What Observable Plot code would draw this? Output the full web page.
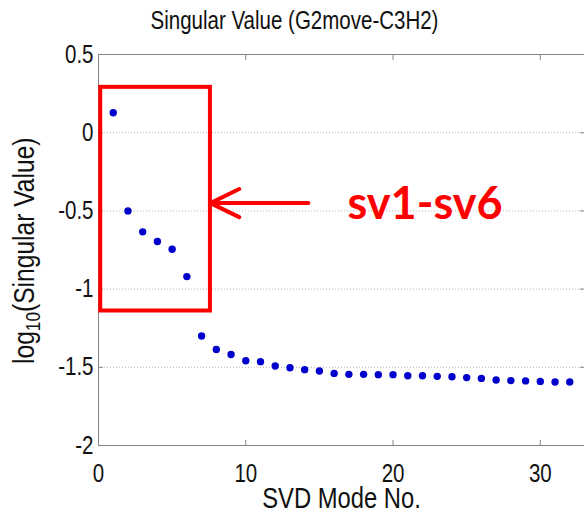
<!DOCTYPE html>
<html>
<head>
<meta charset="utf-8">
<script src="https://cdn.jsdelivr.net/npm/d3@7"></script>
<script src="https://cdn.jsdelivr.net/npm/@observablehq/plot@0.6"></script>
<style>
  body { margin: 0; background: #fff; }
  svg { display: block; }
</style>
</head>
<body>
<div id="chart"></div>
<script>
// SVD mode numbers and the log10 of each singular value
const modeNo = [1, 2, 3, 4, 5, 6, 7, 8, 9, 10, 11, 12, 13, 14, 15, 16,
                17, 18, 19, 20, 21, 22, 23, 24, 25, 26, 27, 28, 29, 30, 31, 32];
const log10SV = [0.128, -0.500, -0.634, -0.696, -0.745, -0.920, -1.300, -1.386,
                 -1.418, -1.458, -1.464, -1.492, -1.503, -1.515, -1.524, -1.539,
                 -1.545, -1.545, -1.547, -1.547, -1.554, -1.554, -1.558, -1.560,
                 -1.566, -1.571, -1.581, -1.585, -1.587, -1.590, -1.594, -1.594];

const xTicks = [0, 10, 20, 30];
const yTicks = [0.5, 0, -0.5, -1, -1.5, -2];
const gridLevels = [0, -0.5, -1, -1.5];

const titleText = "Singular Value (G2move-C3H2)";
const xLabel = "SVD Mode No.";
const yLabel = "log10(Singular Value)";
const highlightLabel = "sv1-sv6";

// Annotation around the first six modes, in data units
const highlightBox = [{x1: 0.15, x2: 7.6, y1: -1.14, y2: 0.29}];
const pointer = [{x1: 14.25, x2: 7.6, y: -0.45}];
const highlightText = [{x: 16.9, y: -0.46, label: highlightLabel}];

const points = modeNo.map((m, i) => ({mode: m, value: log10SV[i]}));

const axisFont = "'Liberation Sans', Arial, Helvetica, sans-serif";
const axisGray = "#858585";
const red = "#ff0000";

const chart = Plot.plot({
  width: 584,
  height: 512,
  marginLeft: 98,
  marginRight: 0,
  marginTop: 54,
  marginBottom: 67,
  style: {fontFamily: axisFont, color: "#111", background: "#fff"},
  x: {domain: [0, 33], ticks: xTicks},
  y: {domain: [-2, 0.5], ticks: yTicks},
  marks: [
    Plot.gridY(gridLevels, {stroke: "#b5b5b5", strokeOpacity: 1, strokeDasharray: "1,2"}),
    Plot.frame({stroke: axisGray}),
    // tick labels
    Plot.axisY(yTicks, {anchor: "left", tickSize: 0, tickPadding: 5, fontSize: 25,
      tickFormat: d => String(d), label: null, className: "narrow"}),
    Plot.axisX(xTicks, {anchor: "bottom", tickSize: 0, tickPadding: 19, fontSize: 25,
      tickFormat: d => String(d), label: null, className: "narrow"}),
    // inward tick marks on all four sides
    Plot.axisY(yTicks, {anchor: "left", tickSize: 5, dx: 5, text: null, label: null, stroke: axisGray}),
    Plot.axisY(yTicks, {anchor: "right", tickSize: 5, dx: -5, text: null, label: null, stroke: axisGray}),
    Plot.axisX(xTicks, {anchor: "bottom", tickSize: 5, dy: -5, text: null, label: null, stroke: axisGray}),
    Plot.axisX(xTicks, {anchor: "top", tickSize: 5, dy: 5, text: null, label: null, stroke: axisGray}),
    // titles
    Plot.text([titleText], {frameAnchor: "top", lineAnchor: "bottom", dx: -47, dy: -26, fontSize: 25,
      fill: "#111", className: "narrow"}),
    Plot.text([xLabel], {frameAnchor: "bottom", lineAnchor: "bottom", dy: 62, fontSize: 29,
      fill: "#111", className: "narrow"}),
    Plot.text([yLabel], {frameAnchor: "left", lineAnchor: "bottom", textAnchor: "start", rotate: -90,
      dx: -65, dy: 114, fontSize: 30, fill: "#111", className: "ylabel"}),
    // data
    Plot.dot(points, {x: "mode", y: "value", r: 3.7, fill: "#0000cc", stroke: "none"}),
    // annotation
    Plot.rect(highlightBox, {x1: "x1", x2: "x2", y1: "y1", y2: "y2", fill: "none", stroke: red, strokeWidth: 4}),
    Plot.arrow(pointer, {x1: "x1", x2: "x2", y1: "y", y2: "y", stroke: red, strokeWidth: 4,
      headLength: 12, headAngle: 52}),
    Plot.text(highlightText, {x: "x", y: "y", text: "label", textAnchor: "start", lineAnchor: "middle",
      fontFamily: "Lato, 'Open Sans', sans-serif", fontWeight: 700, fontSize: 45, fill: red})
  ]
});

// log with a subscript 10 in the y-axis label
d3.select(chart).selectAll("g.ylabel text").each(function () {
  const t = d3.select(this);
  if (t.text() !== yLabel) return;
  t.text("");
  t.append("tspan").text("log");
  t.append("tspan").attr("font-size", "0.7em").attr("dy", "0.3em").text("10");
  t.append("tspan").attr("dy", "-0.21em").text("(Singular Value)");
});

document.getElementById("chart").appendChild(chart);

// Axis texts use a condensed sans: squeeze glyphs horizontally
const condense = 0.82;
d3.select(chart).selectAll("g.narrow text, g.ylabel text").each(function () {
  const w = this.getComputedTextLength();
  if (w > 0) {
    this.setAttribute("textLength", (w * condense).toFixed(2));
    this.setAttribute("lengthAdjust", "spacingAndGlyphs");
  }
});
</script>
</body>
</html>
